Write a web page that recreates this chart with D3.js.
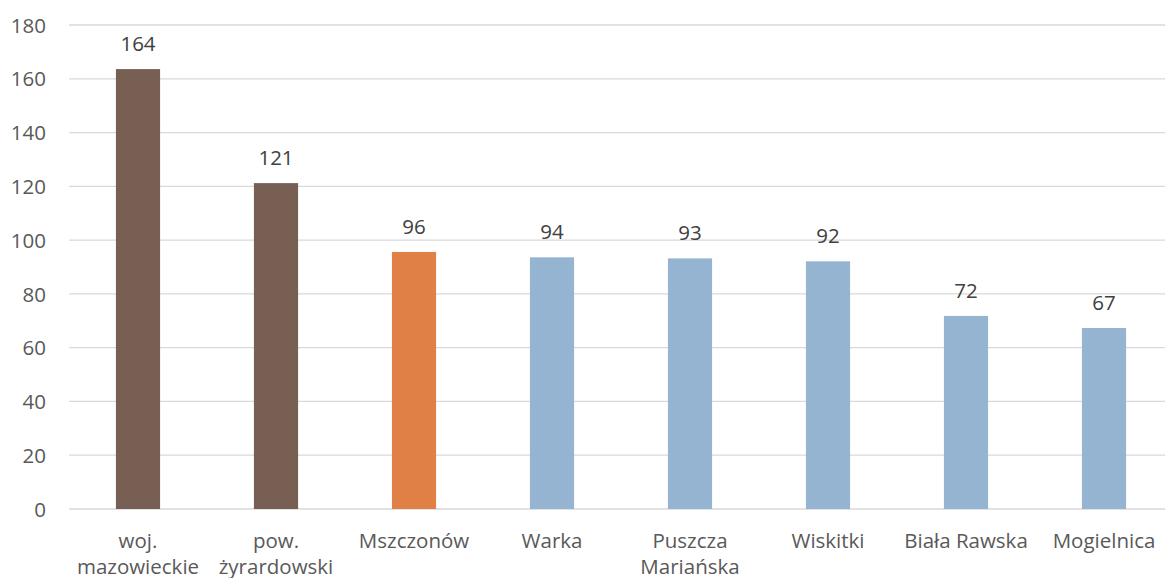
<!DOCTYPE html>
<html><head><meta charset="utf-8">
<script src="https://cdn.jsdelivr.net/npm/d3@7"></script>
<style>html,body{margin:0;padding:0;background:#fff;overflow:hidden}</style>
</head><body>
<svg id="c" width="1165" height="578"></svg>
<script>
const categories = ["woj.\nmazowieckie", "pow.\nżyrardowski", "Mszczonów", "Warka", "Puszcza\nMariańska", "Wiskitki", "Biała Rawska", "Mogielnica"];
const values = [163.6, 121.2, 95.6, 93.6, 93.2, 92.1, 71.8, 67.3];
const barColors = ["#785f54", "#785f54", "#e07f46", "#95b4d1", "#95b4d1", "#95b4d1", "#95b4d1", "#95b4d1"];
const yTicks = [0, 20, 40, 60, 80, 100, 120, 140, 160, 180];

(function () {
const svg = d3.select("#c");
const pL = 69, pR = 1173, pT = 25, pB = 509;
const font = "'Open Sans', sans-serif";
const fs = 20.5;

const x = d3.scaleBand().domain(categories).range([pL, pR]).paddingInner(0.68).paddingOuter(0.34);
const y = d3.scaleLinear().domain([0, 180]).range([pB, pT]);

// gridlines
svg.append("g").selectAll("line").data(yTicks).join("line")
  .attr("x1", pL).attr("x2", 1165)
  .attr("y1", d => y(d)).attr("y2", d => y(d))
  .attr("stroke", "#d9d9d9").attr("stroke-width", 1.3);

// y axis labels
const yAxis = d3.axisLeft(y).tickValues(yTicks).tickSize(0).tickPadding(0);
const ya = svg.append("g").attr("transform", `translate(46,0)`).call(yAxis);
ya.select(".domain").remove();
ya.selectAll("text").attr("font-family", font).attr("font-size", fs).attr("fill", "#595959").attr("dy", "0.35em");

// bars
svg.append("g").selectAll("rect").data(values).join("rect")
  .attr("x", (d, i) => x(categories[i]))
  .attr("width", x.bandwidth())
  .attr("y", d => y(d))
  .attr("height", d => y(0) - y(d))
  .attr("fill", (d, i) => barColors[i]);

// value labels
svg.append("g").selectAll("text").data(values).join("text")
  .attr("x", (d, i) => x(categories[i]) + x.bandwidth() / 2)
  .attr("y", d => y(d) - 18)
  .attr("text-anchor", "middle")
  .attr("font-family", font).attr("font-size", fs).attr("fill", "#404040")
  .text(d => Math.round(d));

// category labels
const cg = svg.append("g").selectAll("text").data(categories).join("text")
  .attr("x", d => x(d) + x.bandwidth() / 2)
  .attr("y", 548)
  .attr("text-anchor", "middle")
  .attr("font-family", font).attr("font-size", fs).attr("fill", "#595959");
cg.each(function(d) {
  const t = d3.select(this);
  const cx = x(d) + x.bandwidth() / 2;
  d.split("\n").forEach((line, j) => {
    t.append("tspan").attr("x", cx).attr("dy", j === 0 ? 0 : 26).text(line);
  });
});
})();
</script>
</body></html>
